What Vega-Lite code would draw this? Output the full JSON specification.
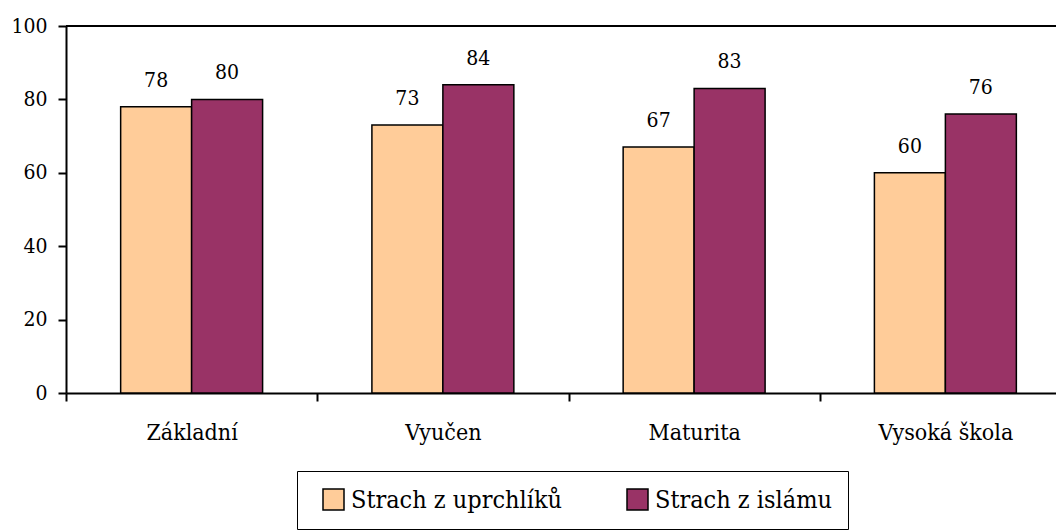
{
  "$schema": "https://vega.github.io/schema/vega-lite/v6.json",
  "autosize": "none",
  "width": 990,
  "height": 367,
  "padding": {"left": 66, "top": 26, "right": 0, "bottom": 137},
  "background": "white",
  "config": {
    "view": {"stroke": null},
    "font": "DejaVu Serif Condensed, DejaVu Serif",
    "axis": {"labelFont": "DejaVu Serif Condensed, DejaVu Serif", "labelColor": "black", "domainColor": "black", "tickColor": "black", "domainWidth": 2, "tickWidth": 2, "grid": false, "title": null},
    "legend": {"labelFont": "DejaVu Serif Condensed, DejaVu Serif"},
    "text": {"font": "DejaVu Serif Condensed, DejaVu Serif"}
  },
  "data": {
    "values": [
      {"kat": "Základní", "serie": "Strach z uprchlíků", "hodnota": 78},
      {"kat": "Základní", "serie": "Strach z islámu", "hodnota": 80},
      {"kat": "Vyučen", "serie": "Strach z uprchlíků", "hodnota": 73},
      {"kat": "Vyučen", "serie": "Strach z islámu", "hodnota": 84},
      {"kat": "Maturita", "serie": "Strach z uprchlíků", "hodnota": 67},
      {"kat": "Maturita", "serie": "Strach z islámu", "hodnota": 83},
      {"kat": "Vysoká škola", "serie": "Strach z uprchlíků", "hodnota": 60},
      {"kat": "Vysoká škola", "serie": "Strach z islámu", "hodnota": 76}
    ]
  },
  "layer": [
    {
      "mark": {"type": "bar", "stroke": "black", "strokeWidth": 1.5},
      "encoding": {
        "x": {
          "field": "kat", "type": "nominal", "sort": null,
          "scale": {"range": [0, 1005], "paddingInner": 0, "paddingOuter": 0},
          "axis": {"labelAngle": 0, "labelFontSize": 23, "tickBand": "extent", "tickSize": 8, "labelPadding": 20}
        },
        "xOffset": {"field": "serie", "type": "nominal", "sort": ["Strach z uprchlíků", "Strach z islámu"], "scale": {"paddingInner": 0, "paddingOuter": 0.77}},
        "y": {
          "field": "hodnota", "type": "quantitative",
          "scale": {"domain": [0, 100], "nice": false},
          "axis": {"values": [0, 20, 40, 60, 80, 100], "labelFontSize": 21, "tickSize": 8, "labelPadding": 11}
        },
        "color": {
          "field": "serie", "type": "nominal",
          "sort": ["Strach z uprchlíků", "Strach z islámu"],
          "scale": {"domain": ["Strach z uprchlíků", "Strach z islámu"], "range": ["#FFCC99", "#993366"]},
          "legend": {
            "title": null, "orient": "none", "direction": "horizontal",
            "legendX": 231, "legendY": 445,
            "strokeColor": "black", "fillColor": "white",
            "padding": 16,
            "symbolType": "square", "symbolSize": 441, "symbolStrokeColor": "black", "symbolStrokeWidth": 1.5,
            "symbolOffset": 8,
            "labelFontSize": 25, "labelColor": "black", "labelOffset": 5,
            "labelLimit": 400, "columnPadding": 54
          }
        }
      }
    },
    {
      "mark": {"type": "text", "baseline": "alphabetic", "dy": -20, "fontSize": 21, "color": "black"},
      "encoding": {
        "x": {"field": "kat", "type": "nominal", "sort": null},
        "xOffset": {"field": "serie", "type": "nominal", "sort": ["Strach z uprchlíků", "Strach z islámu"]},
        "y": {"field": "hodnota", "type": "quantitative"},
        "text": {"field": "hodnota", "type": "quantitative"}
      }
    },
    {
      "mark": {"type": "rule", "color": "black", "strokeWidth": 2},
      "encoding": {"y": {"datum": 100}}
    }
  ]
}
